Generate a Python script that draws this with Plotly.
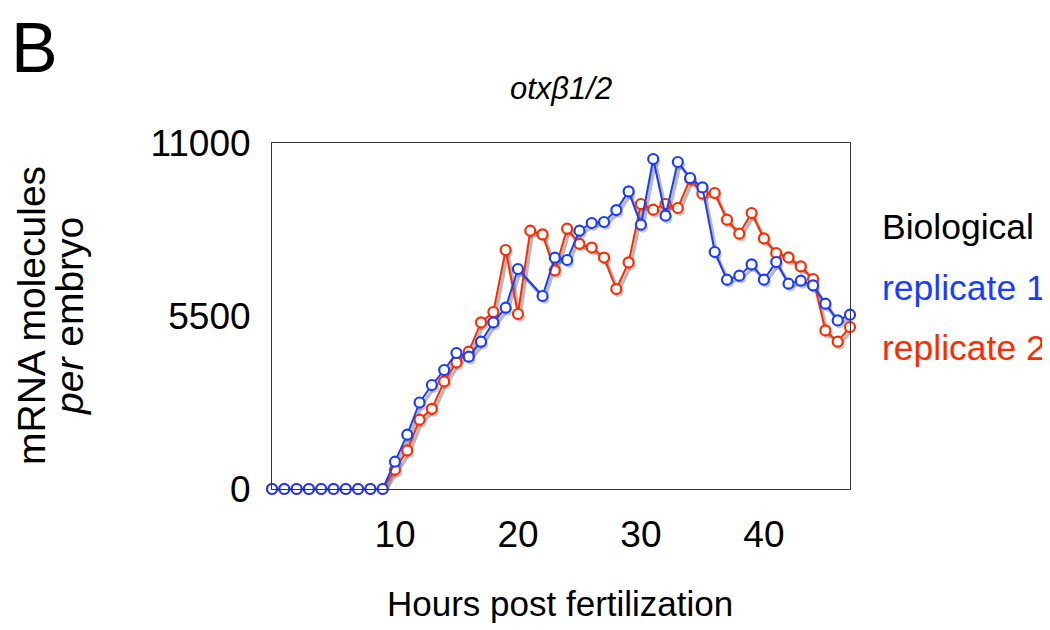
import plotly.graph_objects as go

hours = list(range(0, 48))
rep1 = [0, 0, 0, 0, 0, 0, 0, 0, 0, 0,
        868, 1726, 2750, 3306, 3783, 4324, 4206, 4683, 5297, 5764,
        6994, None, 6136, 7353, 7280, 8212, 8456, 8488, 8869, 9461,
        8402, 10491, 8688, 10396, 9887, 9589, 7535, 6654, 6781, 7141,
        6654, 7217, 6527, 6622, 6473, 5891, 5360, 5541]
rep2 = [0, 0, 0, 0, 0, 0, 0, 0, 0, 0,
        614, 1227, 2203, 2548, 3421, 4025, 4365, 5297, 5627, 7598,
        5564, 8212, 8094, 6950, 8275, 7795, 7676, 7358, 6358, 7204,
        9061, 8879, 9061, 8933, 9856, 9388, 9410, 8561, 8116, 8774,
        7967, 7503, 7363, 7077, 6677, 5042, 4683, 5151]
x_ticks = [10, 20, 30, 40]
y_ticks = [0, 5500, 11000]
y_tick_labels = ["0", "5500", "11000"]
series_names = ["replicate 1", "replicate 2"]
title_text = "<i>otxβ1/2</i>"

BLUE = "#1a3cff"
RED = "#ff2a00"
FONT = "Liberation Sans, Arial, sans-serif"

W, H = 1050, 630
OFF = 8  # page body margin
L, R, T, B = 272 - OFF, 850 - OFF, 143 - OFF, 489 - OFF
PW, PH = R - L, B - T

XR = [0, 47]
YR = [0, 11000]
dx = 2 * (XR[1] - XR[0]) / PW
dy = 3 * (YR[1] - YR[0]) / PH


def px(xp):
    return (xp - OFF - L) / PW


def py(yp):
    return (B - (yp - OFF)) / PH


fig = go.Figure()

for ys in (rep2, rep1):
    fig.add_trace(go.Scatter(
        x=hours, y=ys, mode="lines+markers", connectgaps=True,
        line=dict(color="rgba(80,80,80,0.4)", width=3.5),
        marker=dict(size=10, color="rgba(80,80,80,0.3)", line=dict(width=0)),
        xaxis="x", yaxis="y", showlegend=False, hoverinfo="skip",
        cliponaxis=False))

for ys, col, nm in ((rep2, RED, series_names[1]), (rep1, BLUE, series_names[0])):
    fig.add_trace(go.Scatter(
        x=hours, y=ys, mode="lines+markers", connectgaps=True, name=nm,
        line=dict(color=col, width=2),
        marker=dict(symbol="circle", size=10, color="white",
                    line=dict(color=col, width=2.2)),
        xaxis="x2", yaxis="y2", showlegend=False, cliponaxis=False))

fig.update_layout(
    width=W, height=H,
    margin=dict(l=L, r=W - R, t=T, b=H - B, pad=0),
    paper_bgcolor="white", plot_bgcolor="white",
    font=dict(family=FONT, color="black"),
    showlegend=False,
    xaxis=dict(range=[XR[0] - dx, XR[1] - dx], visible=False, fixedrange=True),
    yaxis=dict(range=[YR[0] + dy, YR[1] + dy], visible=False, fixedrange=True),
    xaxis2=dict(range=XR, overlaying="x", anchor="y2", side="bottom",
                tickvals=x_ticks, ticks="", showgrid=False, zeroline=False,
                showline=True, mirror=True, linecolor="#333", linewidth=1,
                tickfont=dict(size=37, family=FONT, color="black"),
                ticklabelstandoff=13),
    yaxis2=dict(range=YR, overlaying="y", anchor="x2", side="left",
                tickvals=y_ticks, ticktext=y_tick_labels, ticks="",
                showgrid=False, zeroline=False,
                showline=True, mirror=True, linecolor="#333", linewidth=1,
                tickfont=dict(size=37, family=FONT, color="black"),
                ticklabelstandoff=13),
)

ann = []
ann.append(dict(text="B", x=px(10), y=1.0 + 0 * py(0), yref="paper", xanchor="left",
                yanchor="top", yshift=T, borderpad=0,
                font=dict(size=70, family=FONT, color="black")))
ann.append(dict(text=title_text, x=px(561), y=py(89), xanchor="center", yanchor="middle",
                font=dict(size=31, family=FONT, color="black")))
ann.append(dict(text="Hours post fertilization", x=px(560), y=py(603),
                xanchor="center", yanchor="middle",
                font=dict(size=35, family=FONT, color="black")))
ann.append(dict(text="mRNA molecules", x=px(31), y=py(316), textangle=-90,
                xanchor="center", yanchor="middle",
                font=dict(size=39, family=FONT, color="black")))
ann.append(dict(text="<i>per</i> embryo", x=px(69), y=py(316), textangle=-90,
                xanchor="center", yanchor="middle",
                font=dict(size=39, family=FONT, color="black")))
ann.append(dict(text="Biological", x=px(880), y=py(227), xanchor="left", yanchor="middle",
                font=dict(size=35.5, family=FONT, color="black")))
ann.append(dict(text=series_names[0], x=px(880), y=py(288), xanchor="left", yanchor="middle",
                font=dict(size=35.5, family=FONT, color=BLUE)))
ann.append(dict(text=series_names[1], x=px(880), y=py(348), xanchor="left", yanchor="middle",
                font=dict(size=35.5, family=FONT, color=RED)))
for a in ann:
    a.update(xref="paper", yref="paper", showarrow=False)
fig.update_layout(annotations=ann)

fig.write_html("out.html")
